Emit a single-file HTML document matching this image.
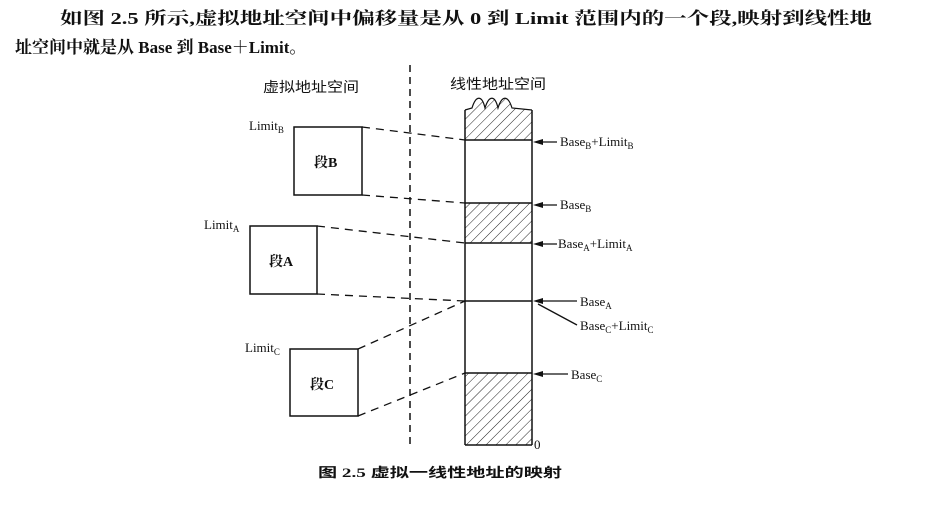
<!DOCTYPE html>
<html><head><meta charset="utf-8"><style>
html,body{margin:0;padding:0;background:#fff;}
svg{display:block;}
text{font-family:"Liberation Serif","Noto Serif CJK SC","Noto Sans CJK SC",serif;fill:#111;}
.cj{font-family:"Liberation Serif","Noto Sans CJK SC",sans-serif;}
</style></head><body>
<svg width="932" height="509" viewBox="0 0 932 509" xmlns="http://www.w3.org/2000/svg">
<defs>
<pattern id="h" width="7" height="7" patternUnits="userSpaceOnUse" patternTransform="rotate(45)">
<line x1="0" y1="0" x2="0" y2="7" stroke="#222" stroke-width="1"/>
</pattern>
</defs>
<text x="60" y="24" font-size="17" font-weight="bold" textLength="812" lengthAdjust="spacingAndGlyphs">如图 2.5 所示,虚拟地址空间中偏移量是从 0 到 Limit 范围内的一个段,映射到线性地</text>
<text x="15" y="53" font-size="17" font-weight="bold">址空间中就是从 Base 到 Base＋Limit。</text>

<text class="cj" x="263" y="92" font-size="14" textLength="96" lengthAdjust="spacingAndGlyphs">虚拟地址空间</text>
<text class="cj" x="450" y="89" font-size="14" textLength="96" lengthAdjust="spacingAndGlyphs">线性地址空间</text>

<line x1="410" y1="65" x2="410" y2="445" stroke="#111" stroke-width="1.5" stroke-dasharray="7,5"/>

<path d="M465,110 L472,108 C476,95 482,95 485,108 C489,95 495,95 498,108 C502,95 508,95 512,108 L532,110 L532,140 L465,140 Z" fill="url(#h)"/>
<path d="M465,110 L472,108 C476,95 482,95 485,108 C489,95 495,95 498,108 C502,95 508,95 512,108 L532,110" fill="none" stroke="#111" stroke-width="1.2"/>
<rect x="465" y="203" width="67" height="40" fill="url(#h)"/>
<rect x="465" y="373" width="67" height="72" fill="url(#h)"/>
<g stroke="#111" stroke-width="1.5" fill="none">
<line x1="465" y1="110" x2="465" y2="445"/>
<line x1="532" y1="110" x2="532" y2="445"/>
<line x1="465" y1="445" x2="532" y2="445"/>
<line x1="465" y1="140" x2="532" y2="140"/>
<line x1="465" y1="203" x2="532" y2="203"/>
<line x1="465" y1="243" x2="532" y2="243"/>
<line x1="465" y1="301" x2="532" y2="301"/>
<line x1="465" y1="373" x2="532" y2="373"/>
<rect x="294" y="127" width="68" height="68"/>
<rect x="250" y="226" width="67" height="68"/>
<rect x="290" y="349" width="68" height="67"/>
</g>
<g stroke="#111" stroke-width="1.3" stroke-dasharray="8,6">
<line x1="362" y1="127" x2="465" y2="140"/>
<line x1="362" y1="195" x2="465" y2="203"/>
<line x1="317" y1="226" x2="465" y2="243"/>
<line x1="317" y1="294" x2="465" y2="301"/>
<line x1="358" y1="349" x2="465" y2="301"/>
<line x1="358" y1="416" x2="465" y2="373"/>
</g>
<g stroke="#111" stroke-width="1.3">
<line x1="540" y1="142" x2="557" y2="142"/>
<line x1="540" y1="205" x2="557" y2="205"/>
<line x1="540" y1="244" x2="557" y2="244"/>
<line x1="540" y1="301" x2="577" y2="301"/>
<line x1="538" y1="304" x2="577" y2="325"/>
<line x1="540" y1="374" x2="568" y2="374"/>
</g>
<g fill="#111">
<polygon points="533,142 543,139 543,145"/>
<polygon points="533,205 543,202 543,208"/>
<polygon points="533,244 543,241 543,247"/>
<polygon points="533,301 543,298 543,304"/>
<polygon points="533,374 543,371 543,377"/>
</g>
<g font-size="13">
<text x="560" y="146">Base<tspan font-size="9" dy="3">B</tspan><tspan dy="-3">+Limit</tspan><tspan font-size="9" dy="3">B</tspan></text>
<text x="560" y="209">Base<tspan font-size="9" dy="3">B</tspan></text>
<text x="558" y="248">Base<tspan font-size="9" dy="3">A</tspan><tspan dy="-3">+Limit</tspan><tspan font-size="9" dy="3">A</tspan></text>
<text x="580" y="306">Base<tspan font-size="9" dy="3">A</tspan></text>
<text x="580" y="330">Base<tspan font-size="9" dy="3">C</tspan><tspan dy="-3">+Limit</tspan><tspan font-size="9" dy="3">C</tspan></text>
<text x="571" y="379">Base<tspan font-size="9" dy="3">C</tspan></text>
<text x="534" y="449">0</text>
<text x="249" y="130">Limit<tspan font-size="9" dy="3">B</tspan></text>
<text x="204" y="229">Limit<tspan font-size="9" dy="3">A</tspan></text>
<text x="245" y="352">Limit<tspan font-size="9" dy="3">C</tspan></text>
</g>
<g font-size="14" class="cj" font-weight="bold">
<text x="314" y="167">段B</text>
<text x="269" y="266">段A</text>
<text x="310" y="389">段C</text>
</g>
<text class="cj" x="318" y="477" font-size="13" font-weight="bold" textLength="244" lengthAdjust="spacingAndGlyphs">图 2.5   虚拟一线性地址的映射</text>
</svg>
</body></html>
